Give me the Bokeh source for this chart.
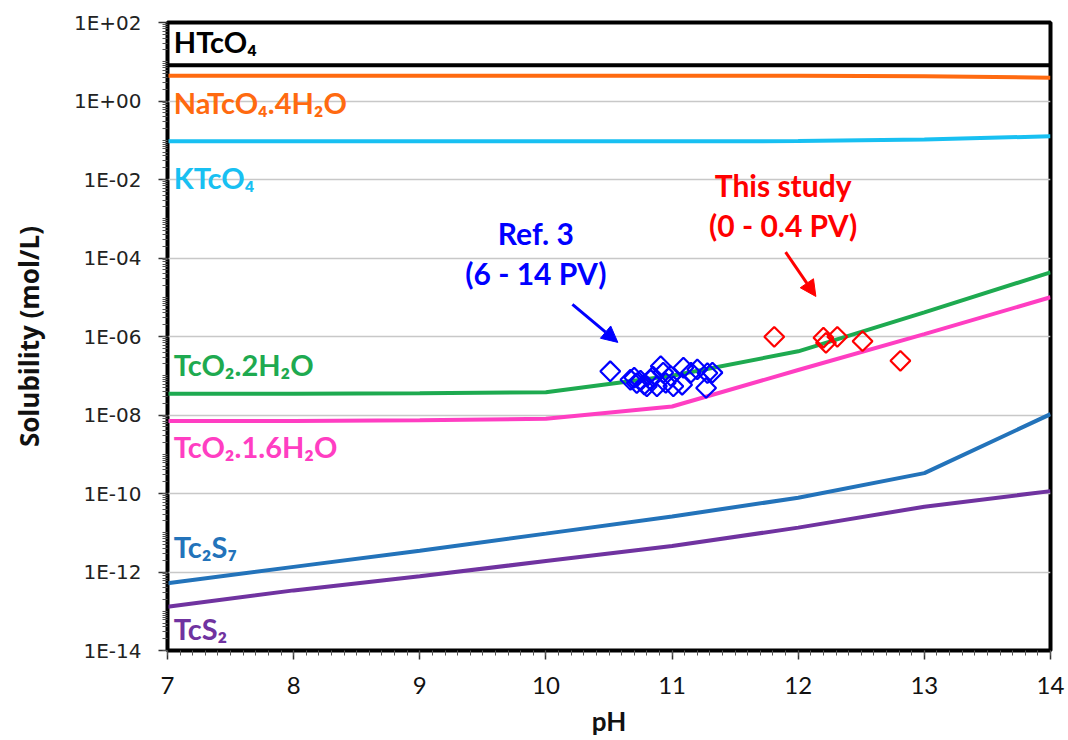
import math
from bokeh.plotting import figure
from bokeh.models import FixedTicker, Arrow, NormalHead, Range1d
from bokeh.core.properties import value
from bokeh.embed import file_html
from bokeh.resources import INLINE

# ---- data ----
ph = [7, 8, 9, 10, 11, 12, 13, 14]
htco4 = [8.1, 8.1, 8.1, 8.1, 8.1, 8.1, 8.1, 8.1]
natco4 = [4.4, 4.4, 4.4, 4.4, 4.4, 4.4, 4.3, 3.9]
ktco4 = [0.094, 0.094, 0.094, 0.094, 0.094, 0.095, 0.105, 0.126]
tco2_2h2o = [3.5e-8, 3.5e-8, 3.6e-8, 3.8e-8, 1.0e-7, 4.2e-7, 4.1e-6, 4.3e-5]
tco2_16h2o = [7.0e-9, 7.0e-9, 7.4e-9, 8.0e-9, 1.65e-8, 1.4e-7, 1.15e-6, 1.0e-5]
tc2s7 = [5.2e-13, 1.35e-12, 3.5e-12, 9.5e-12, 2.6e-11, 7.8e-11, 3.3e-10, 1.05e-8]
tcs2 = [1.3e-13, 3.4e-13, 7.8e-13, 1.9e-12, 4.6e-12, 1.35e-11, 4.6e-11, 1.15e-10]

ref3_ph = [10.51, 10.67, 10.70, 10.72, 10.75, 10.78, 10.80, 10.83, 10.85, 10.88, 10.91,
           10.93, 10.95, 10.99, 11.01, 11.08, 11.09, 11.15, 11.20, 11.27, 11.28, 11.32]
ref3_sol = [1.3e-7, 7.9e-8, 8.9e-8, 6.5e-8, 7.5e-8, 6.0e-8, 5.4e-8, 7.9e-8, 9.5e-8, 5.4e-8, 1.75e-7,
            1.2e-7, 6.6e-8, 9.8e-8, 5.4e-8, 5.9e-8, 1.6e-7, 1.2e-7, 1.45e-7, 4.9e-8, 1.17e-7, 1.2e-7]
study_ph = [11.81, 12.20, 12.22, 12.31, 12.51, 12.81]
study_sol = [9.8e-7, 9.3e-7, 6.9e-7, 9.8e-7, 7.6e-7, 2.4e-7]

y_major = [10.0 ** k for k in range(-14, 3, 2)]
y_major_labels = ["1E-14", "1E-12", "1E-10", "1E-08", "1E-06", "1E-04", "1E-02", "1E+00", "1E+02"]
x_major = [7, 8, 9, 10, 11, 12, 13, 14]

# ---- styling ----
C_BLACK = "#000000"
C_ORANGE = "#FF6A10"
C_CYAN = "#18C0F2"
C_GREEN = "#1EAA50"
C_MAGENTA = "#FF3EC2"
C_BLUE = "#2373BA"
C_PURPLE = "#7033A0"
LABEL_FONT = "Lato"

p = figure(width=1068, height=740, output_backend="svg", toolbar_location=None,
           x_range=Range1d(7, 14), y_range=Range1d(1e-14, 1e2), y_axis_type="log",
           min_border_left=167, min_border_right=18, min_border_top=22, min_border_bottom=90)
p.background_fill_color = "white"
p.border_fill_color = "white"
p.outline_line_color = "black"
p.outline_line_width = 4

p.xgrid.visible = False
p.ygrid.ticker = FixedTicker(ticks=y_major)
p.ygrid.grid_line_color = "#c8c8c8"
p.ygrid.grid_line_width = 1.5

minor_y = [m * 10.0 ** k for k in range(-14, 2) for m in range(1, 10)]
p.yaxis.ticker = FixedTicker(ticks=y_major, minor_ticks=minor_y)
p.yaxis.major_label_overrides = {t: l for t, l in zip(y_major, y_major_labels)}
p.yaxis.major_label_text_font = "DejaVu Sans"
p.yaxis.major_label_text_font_size = "20px"
p.yaxis.major_label_text_color = "#222222"
p.yaxis.major_label_text_font_style = "normal"
p.yaxis.major_label_standoff = 17
p.yaxis.axis_label = "Solubility (mol/L)"
p.yaxis.axis_label_text_font = "Open Sans"
p.yaxis.axis_label_text_font_style = "bold"
p.yaxis.axis_label_text_font_size = "26px"
p.yaxis.axis_label_text_color = "#111111"
p.yaxis.axis_label_standoff = 24

minor_x = [7 + i * 0.1 for i in range(71)]
p.xaxis.ticker = FixedTicker(ticks=x_major, minor_ticks=minor_x)
p.xaxis.major_label_text_font = LABEL_FONT
p.xaxis.major_label_text_font_size = "24px"
p.xaxis.major_label_text_color = "#111111"
p.xaxis.major_label_standoff = 17
p.xaxis.axis_label = "pH"
p.xaxis.axis_label_text_font = LABEL_FONT
p.xaxis.axis_label_text_font_style = "bold"
p.xaxis.axis_label_text_font_size = "26px"
p.xaxis.axis_label_text_color = "#111111"
p.xaxis.axis_label_standoff = 8

for ax in (p.xaxis[0], p.yaxis[0]):
    ax.axis_line_color = "black"
    ax.axis_line_width = 2
    ax.major_tick_line_color = "#333333"
    ax.minor_tick_line_color = "#555555"
    ax.major_tick_line_width = 1.5
    ax.minor_tick_line_width = 1
    ax.major_tick_in = 0
    ax.major_tick_out = 9
    ax.minor_tick_in = 0
    ax.minor_tick_out = 5

# ---- curves ----
series = [
    (htco4, C_BLACK, 4),
    (natco4, C_ORANGE, 4),
    (ktco4, C_CYAN, 4),
    (tco2_2h2o, C_GREEN, 4),
    (tco2_16h2o, C_MAGENTA, 4),
    (tc2s7, C_BLUE, 4),
    (tcs2, C_PURPLE, 4),
]
for ys, col, w in series:
    p.line(ph, ys, line_color=col, line_width=w)

# ---- scatter ----
p.scatter(ref3_ph, ref3_sol, marker="square", size=14, angle=math.pi / 4,
          fill_color=None, line_color="#0000FF", line_width=2.2)
p.scatter(study_ph, study_sol, marker="square", size=14, angle=math.pi / 4,
          fill_color=None, line_color="#FF0000", line_width=2.2)

# ---- series labels ----
lab_x = [7.05, 7.05, 7.05, 7.05, 7.05, 7.05, 7.05]
lab_y = [10 ** 1.51, 10 ** -0.045, 10 ** -1.94, 10 ** -6.72, 10 ** -8.79, 10 ** -11.34, 10 ** -13.44]
lab_text = ["HTcO\u2084", "NaTcO\u2084.4H\u2082O", "KTcO\u2084", "TcO\u2082.2H\u2082O",
            "TcO\u2082.1.6H\u2082O", "Tc\u2082S\u2087", "TcS\u2082"]
lab_col = [C_BLACK, C_ORANGE, C_CYAN, C_GREEN, C_MAGENTA, C_BLUE, C_PURPLE]
p.text(x=lab_x, y=lab_y, text=lab_text, text_color=lab_col,
       text_font=value(LABEL_FONT), text_font_style="bold", text_font_size="29px",
       text_baseline="middle", text_align="left")

# annotations
ann_x = [9.92, 9.92, 11.88, 11.88]
ann_y = [10 ** -3.37, 10 ** -4.39, 10 ** -2.14, 10 ** -3.16]
ann_text = ["Ref. 3", "(6 - 14 PV)", "This study", "(0 - 0.4 PV)"]
ann_col = ["#0000FF", "#0000FF", "#FF0000", "#FF0000"]
p.text(x=ann_x, y=ann_y, text=ann_text, text_color=ann_col,
       text_font=value(LABEL_FONT), text_font_style="bold", text_font_size="30px",
       text_baseline="middle", text_align="center")

arrow_start = [(10.21, 10 ** -5.18), (11.90, 10 ** -3.85)]
arrow_end = [(10.57, 10 ** -6.15), (12.14, 10 ** -4.98)]
arrow_col = ["#0000FF", "#FF0000"]
for (x0, y0), (x1, y1), col in zip(arrow_start, arrow_end, arrow_col):
    p.add_layout(Arrow(end=NormalHead(size=16, fill_color=col, line_color=col),
                       x_start=x0, y_start=y0, x_end=x1, y_end=y1,
                       line_color=col, line_width=3))

open("out.html", "w").write(file_html(p, INLINE))
